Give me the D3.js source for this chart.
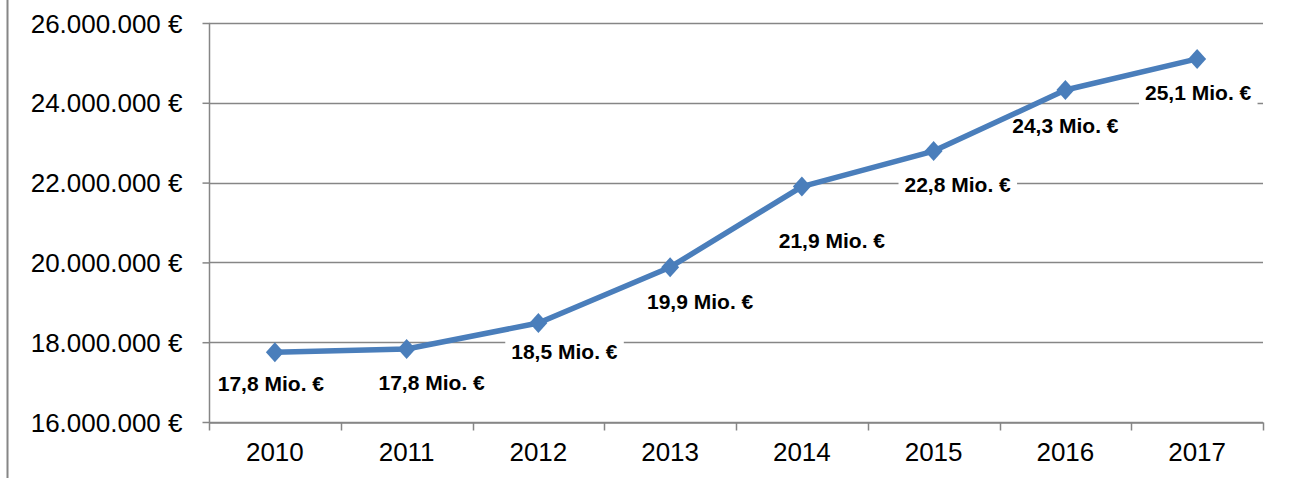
<!DOCTYPE html>
<html><head><meta charset="utf-8">
<script src="https://cdn.jsdelivr.net/npm/d3@7"></script>
<style>body{margin:0;background:#fff}svg{display:block;font-family:"Liberation Sans",Arial,sans-serif}</style>
</head><body>
<svg id="c" width="1289" height="478"></svg>
<script>
const years = ["2010","2011","2012","2013","2014","2015","2016","2017"];
const values = [17750000, 17830000, 18480000, 19880000, 21900000, 22790000, 24320000, 25100000];
const labels = ["17,8 Mio. €","17,8 Mio. €","18,5 Mio. €","19,9 Mio. €","21,9 Mio. €","22,8 Mio. €","24,3 Mio. €","25,1 Mio. €"];
const yTicks = [16000000, 18000000, 20000000, 22000000, 24000000, 26000000];
const labelOffsets = [[-4,31],[25,34],[26,29],[30,34],[30,54],[24,34],[0,36],[1,34]];

const svg = d3.select("#c");
const L = 209, R = 1263, T = 23, B = 422;
const x = d3.scaleBand().domain(years).range([L, R]);
const y = d3.scaleLinear().domain([16000000, 26000000]).range([B, T]);
const grey = "#868686";
const FONT = "Liberation Sans, Arial, sans-serif";

svg.append("line").attr("x1",7.5).attr("x2",7.5).attr("y1",0).attr("y2",478).attr("stroke",grey).attr("stroke-width",2);

// gridlines
svg.append("g").selectAll("line").data(yTicks).join("line")
  .attr("x1", L).attr("x2", R).attr("y1", d => Math.round(y(d))+0.5).attr("y2", d => Math.round(y(d))+0.5)
  .attr("stroke", grey).attr("stroke-width", 1.5);

// label backgrounds layer (above gridlines, below line)
const bgLayer = svg.append("g");

// y axis
const fmt = d => d3.format(",")(d).replace(/,/g,".") + " €";
const ya = svg.append("g").attr("transform",`translate(${L+0.5},0)`)
  .call(d3.axisLeft(y).tickValues(yTicks).tickFormat(fmt).tickSize(7).tickPadding(20));
ya.selectAll("path,line").attr("stroke",grey).attr("stroke-width",1.5);
ya.select(".domain").attr("d",`M0,${T}V${B}`);
ya.selectAll("text").attr("font-size",26).attr("fill","#000").attr("font-family",FONT).attr("dy","0.35em");

// x axis
const xa = svg.append("g").attr("transform",`translate(0,${B+0.5})`)
  .call(d3.axisBottom(x).tickSize(0).tickPadding(20));
xa.select(".domain").attr("stroke",grey).attr("stroke-width",1.5);
xa.selectAll("text").attr("font-size",26).attr("fill","#000").attr("font-family",FONT);
const bounds = years.map(d => x(d)).concat([R]);
xa.append("g").selectAll("line").data(bounds).join("line")
  .attr("x1", d => Math.round(d)+0.5).attr("x2", d => Math.round(d)+0.5).attr("y1",0).attr("y2",8)
  .attr("stroke",grey).attr("stroke-width",1.5);

const cx = d => x(d) + x.bandwidth()/2;
const pts = years.map((d,i) => ({yr:d, v:values[i], lab:labels[i], off:labelOffsets[i]}));

// line + markers
const line = d3.line().x(d => cx(d.yr)).y(d => y(d.v));
svg.append("path").datum(pts).attr("d", line).attr("fill","none")
  .attr("stroke","#4A7EBB").attr("stroke-width",5.5).attr("stroke-linejoin","round");
const diamond = {draw(ctx, size){ const w=9, h=10; ctx.moveTo(0,-h); ctx.lineTo(w,0); ctx.lineTo(0,h); ctx.lineTo(-w,0); ctx.closePath(); }};
svg.append("g").selectAll("path").data(pts).join("path")
  .attr("d", d3.symbol().type(diamond))
  .attr("transform", d => `translate(${cx(d.yr)},${y(d.v)})`)
  .attr("fill","#4A7EBB");

// labels
const lg = svg.append("g");
const texts = lg.selectAll("text").data(pts).join("text")
  .attr("x", d => cx(d.yr) + d.off[0]).attr("y", d => y(d.v) + d.off[1])
  .attr("text-anchor","middle").attr("dy","0.35em")
  .attr("font-size",21).attr("font-weight","bold").attr("fill","#000").attr("font-family",FONT)
  .text(d => d.lab);
texts.each(function(){
  const b = this.getBBox();
  bgLayer.append("rect").attr("x",b.x-6).attr("y",b.y-1).attr("width",b.width+12).attr("height",b.height+2).attr("fill","#fff");
});
</script>
</body></html>
